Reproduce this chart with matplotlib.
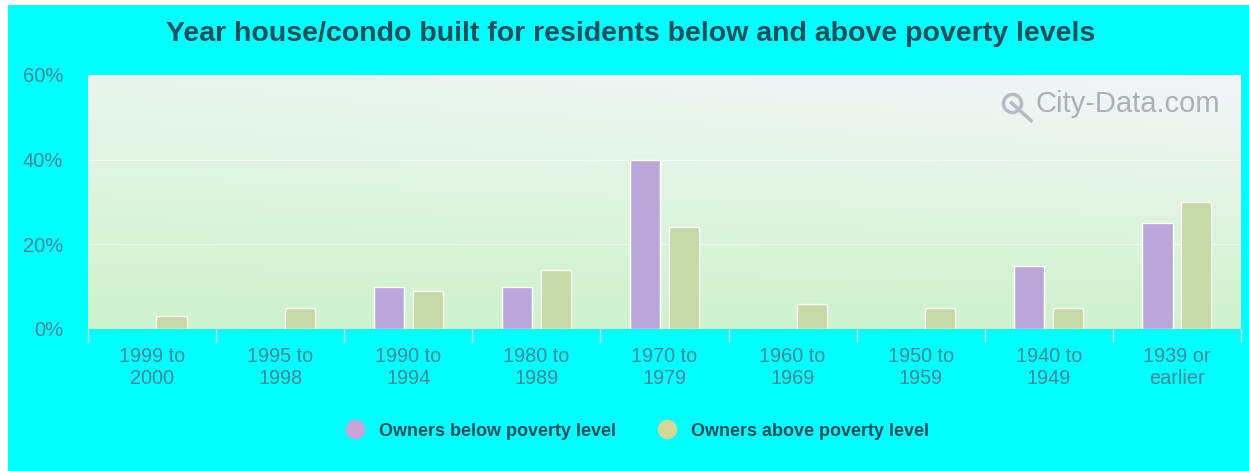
import numpy as np
import matplotlib
matplotlib.use("Agg")
import matplotlib.pyplot as plt
from matplotlib.patches import Rectangle
from matplotlib.lines import Line2D

categories = ["1999 to\n2000", "1995 to\n1998", "1990 to\n1994", "1980 to\n1989",
              "1970 to\n1979", "1960 to\n1969", "1950 to\n1959", "1940 to\n1949",
              "1939 or\nearlier"]
below = [0, 0, 10, 10, 40, 0, 0, 15, 25]
above = [3, 5, 9, 14, 24, 6, 5, 5, 30]
yticks = [0, 20, 40, 60]
series_names = ["Owners below poverty level", "Owners above poverty level"]

PURPLE = "#bba6da"
GREEN = "#c6d8a6"
TEXT = "#3f8a99"
DARK = "#1d4f5c"

plt.rcParams["font.family"] = ["Liberation Sans", "DejaVu Sans"]

W, H = 1249, 471
fig = plt.figure(figsize=(W / 100, H / 100), dpi=100, facecolor="white")
# cyan card behind everything
fig.patches.append(Rectangle((8 / W, 0), 1 - 8 / W, 1 - 5 / H, transform=fig.transFigure,
                             facecolor="#00ffff", edgecolor="none", zorder=-10))

ax = fig.add_axes([88 / W, (H - 329) / H, (1241 - 88) / W, (329 - 75) / H])
x = np.arange(len(categories))
ax.set_xlim(-0.5, len(categories) - 0.5)
ax.set_ylim(0, 60)

# soft gradient background: green at bottom, whitish at top, a touch of lavender top right
ny, nx = 100, 200
yy, xx = np.mgrid[0:1:ny * 1j, 0:1:nx * 1j]
bottom = np.array([0.81, 0.95, 0.80])
top_left = np.array([0.91, 0.96, 0.93])
top_right = np.array([0.96, 0.96, 0.98])
top = top_left[None, None, :] * (1 - xx[..., None]) + top_right[None, None, :] * xx[..., None]
img = bottom[None, None, :] * (1 - yy[..., None]) + top * yy[..., None]
ax.imshow(img, extent=[-0.5, len(categories) - 0.5, 0, 60], origin="lower",
          aspect="auto", zorder=0, interpolation="bilinear")

ax.set_yticks(yticks)
ax.set_yticklabels([f"{v}%" for v in yticks])
ax.grid(axis="y", color="white", alpha=0.6, linewidth=0.8, zorder=1)
ax.set_axisbelow(True)

bw = 0.235
off = 0.152
ax.bar(x - off, below, bw, color=PURPLE, edgecolor="white", linewidth=1, zorder=3)
ax.bar(x + off, above, bw, color=GREEN, edgecolor="white", linewidth=1, zorder=3)

for s in ax.spines.values():
    s.set_visible(False)

ax.set_xticks(x)
ax.set_xticklabels(categories, fontsize=14.3, color=TEXT, linespacing=1.2)
ax.set_xticks(np.arange(-0.5, len(categories)), minor=True)
ax.tick_params(axis="x", which="major", length=0, pad=13)
ax.tick_params(axis="x", which="minor", length=10, color="#c8eeee", width=1)
ax.tick_params(axis="y", length=0, pad=18, labelsize=14.5, labelcolor=TEXT)

fig.text(631 / W, 1 - 34 / H, "Year house/condo built for residents below and above poverty levels",
         ha="center", va="center", fontsize=20.5, fontweight="bold", color=DARK)

# watermark with a small magnifier-like mark
ax.text(0.982, 0.885, "City-Data.com", transform=ax.transAxes, ha="right", va="center",
        fontsize=21, color="#a9b0b8", zorder=4)
ax.plot([0.801], [0.89], transform=ax.transAxes, marker="o", markersize=13,
        markerfacecolor="none", markeredgecolor="#b4bcc4", markeredgewidth=2.5, zorder=4)
ax.plot([0.801, 0.818], [0.89, 0.82], transform=ax.transAxes, color="#b4bcc4",
        linewidth=2.5, zorder=4)

handles = [Line2D([], [], marker="o", linestyle="none", markersize=14,
                  markerfacecolor=c, markeredgecolor="none") for c in ["#c8a4d8", "#d4d896"]]
prop = {"weight": "bold", "size": 13}
fig.legend(handles, series_names, loc="center", bbox_to_anchor=(633 / W, 1 - 431 / H),
           ncol=2, frameon=False, handletextpad=0.3, columnspacing=1.85, prop=prop)
for t in fig.legends[0].get_texts():
    t.set_color(DARK)

fig.savefig("out.png", dpi=100, facecolor=fig.get_facecolor())
